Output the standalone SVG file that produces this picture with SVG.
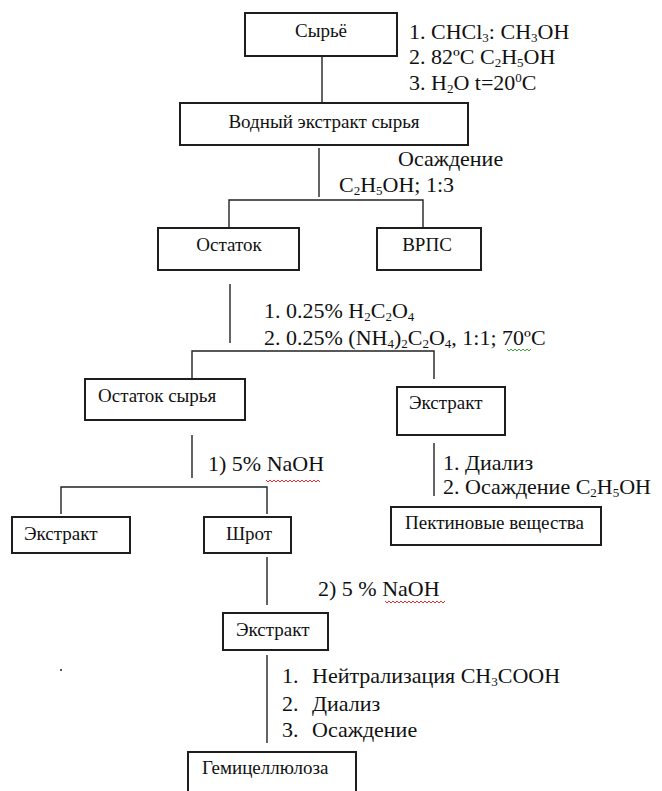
<svg xmlns="http://www.w3.org/2000/svg" width="662" height="791" viewBox="0 0 662 791">
  <style>
    .box { fill: #ffffff; stroke: #1e1e1e; stroke-width: 2; }
    .lbl { font-family: "Liberation Serif", "Times New Roman", serif; font-size: 19px; fill: #111111; }
    .note { font-family: "Liberation Serif", "Times New Roman", serif; font-size: 22px; fill: #111111; }
    .s { font-size: 13px; }
    .wire { stroke: #222222; stroke-width: 1.4; fill: none; }
    .wavy-red { stroke: #e03030; stroke-width: 1; fill: none; }
    .wavy-green { stroke: #3aa03a; stroke-width: 1; fill: none; }
  </style>
  <rect x="0" y="0" width="662" height="791" fill="#ffffff"/>

  <!-- connectors -->
  <g id="connectors">
    <path class="wire" d="M322 56 V103"/>
    <path class="wire" d="M319 148 V197"/>
    <path class="wire" d="M229 228 V200 H423 V228"/>
    <path class="wire" d="M230 284 V343"/>
    <path class="wire" d="M192 379 V351 H434 V379"/>
    <path class="wire" d="M192 435 V478"/>
    <path class="wire" d="M61 514 V487 H267 V514"/>
    <path class="wire" d="M434 443 V496"/>
    <path class="wire" d="M267 557 V605"/>
    <path class="wire" d="M267 655 V743"/>
  </g>

  <!-- process nodes -->
  <g id="raw">
    <rect class="box" x="245" y="13" width="152" height="43"/>
    <text class="lbl" x="321" y="37" text-anchor="middle">Сырьё</text>
  </g>
  <g id="water-extract">
    <rect class="box" x="180" y="103" width="288" height="42"/>
    <text class="lbl" x="324" y="128" text-anchor="middle">Водный экстракт сырья</text>
  </g>
  <g id="residue">
    <rect class="box" x="158" y="228" width="141" height="42"/>
    <text class="lbl" x="229" y="251" text-anchor="middle">Остаток</text>
  </g>
  <g id="vrps">
    <rect class="box" x="377" y="228" width="104" height="42"/>
    <text class="lbl" x="427" y="251" text-anchor="middle">ВРПС</text>
  </g>
  <g id="raw-residue">
    <rect class="box" x="85" y="379" width="160" height="41"/>
    <text class="lbl" x="98" y="402">Остаток сырья</text>
  </g>
  <g id="oxalate-extract">
    <rect class="box" x="397" y="387" width="108" height="48"/>
    <text class="lbl" x="409" y="409">Экстракт</text>
  </g>
  <g id="alkali-extract">
    <rect class="box" x="12" y="517" width="118" height="36"/>
    <text class="lbl" x="24" y="540">Экстракт</text>
  </g>
  <g id="meal">
    <rect class="box" x="204" y="517" width="87" height="36"/>
    <text class="lbl" x="249" y="540" text-anchor="middle">Шрот</text>
  </g>
  <g id="pectin">
    <rect class="box" x="391" y="507" width="210" height="38"/>
    <text class="lbl" x="405" y="529">Пектиновые вещества</text>
  </g>
  <g id="second-extract">
    <rect class="box" x="223" y="613" width="105" height="37"/>
    <text class="lbl" x="236" y="636">Экстракт</text>
  </g>
  <g id="hemicellulose">
    <rect class="box" x="188" y="752" width="168" height="60"/>
    <text class="lbl" x="202" y="774">Гемицеллюлоза</text>
  </g>

  <!-- step annotations -->
  <g id="notes">
    <text class="note" x="409" y="39">1. CHCl<tspan class="s" dy="3">3</tspan><tspan dy="-3">: CH</tspan><tspan class="s" dy="3">3</tspan><tspan dy="-3">OH</tspan></text>
    <text class="note" x="409" y="64">2. 82ºC C<tspan class="s" dy="3">2</tspan><tspan dy="-3">H</tspan><tspan class="s" dy="3">5</tspan><tspan dy="-3">OH</tspan></text>
    <text class="note" x="409" y="90">3. H<tspan class="s" dy="3">2</tspan><tspan dy="-3">O t=20</tspan><tspan class="s" dy="-8">0</tspan><tspan dy="8">C</tspan></text>

    <text class="note" x="398" y="166">Осаждение</text>
    <text class="note" x="339" y="192">C<tspan class="s" dy="3">2</tspan><tspan dy="-3">H</tspan><tspan class="s" dy="3">5</tspan><tspan dy="-3">OH; 1:3</tspan></text>

    <text class="note" x="264" y="318">1. 0.25% H<tspan class="s" dy="3">2</tspan><tspan dy="-3">C</tspan><tspan class="s" dy="3">2</tspan><tspan dy="-3">O</tspan><tspan class="s" dy="3">4</tspan></text>
    <text class="note" x="264" y="345">2. 0.25% (NH<tspan class="s" dy="3">4</tspan><tspan dy="-3">)</tspan><tspan class="s" dy="3">2</tspan><tspan dy="-3">C</tspan><tspan class="s" dy="3">2</tspan><tspan dy="-3">O</tspan><tspan class="s" dy="3">4</tspan><tspan dy="-3">, 1:1; 70ºC</tspan></text>

    <text class="note" x="208" y="471">1) 5% NaOH</text>

    <text class="note" x="443" y="470">1. Диализ</text>
    <text class="note" x="443" y="494">2. Осаждение C<tspan class="s" dy="3">2</tspan><tspan dy="-3">H</tspan><tspan class="s" dy="3">5</tspan><tspan dy="-3">OH</tspan></text>

    <text class="note" x="318" y="596">2) 5 % NaOH</text>

    <text class="note" x="282" y="683">1.<tspan x="312">Нейтрализация CH</tspan><tspan class="s" dy="3">3</tspan><tspan dy="-3">COOH</tspan></text>
    <text class="note" x="282" y="711">2.<tspan x="312">Диализ</tspan></text>
    <text class="note" x="282" y="737">3.<tspan x="312">Осаждение</tspan></text>
  </g>

  <!-- spell-check squiggles -->
  <g id="squiggles">
    <path class="wavy-red" d="M266 480 l2 2 l2 -2 l2 2 l2 -2 l2 2 l2 -2 l2 2 l2 -2 l2 2 l2 -2 l2 2 l2 -2 l2 2 l2 -2 l2 2 l2 -2 l2 2 l2 -2 l2 2 l2 -2 l2 2 l2 -2 l2 2 l2 -2 l2 2 l2 -2 l2 2"/>
    <path class="wavy-red" d="M385 601 l2 2 l2 -2 l2 2 l2 -2 l2 2 l2 -2 l2 2 l2 -2 l2 2 l2 -2 l2 2 l2 -2 l2 2 l2 -2 l2 2 l2 -2 l2 2 l2 -2 l2 2 l2 -2 l2 2 l2 -2 l2 2 l2 -2 l2 2 l2 -2 l2 2 l2 -2 l2 2 l2 -2"/>
    <path class="wavy-green" d="M507 349 l2 2 l2 -2 l2 2 l2 -2 l2 2 l2 -2 l2 2 l2 -2 l2 2 l2 -2 l2 2 l2 -2"/>
  </g>

  <rect x="60" y="669" width="2" height="2" fill="#555555"/>
</svg>
